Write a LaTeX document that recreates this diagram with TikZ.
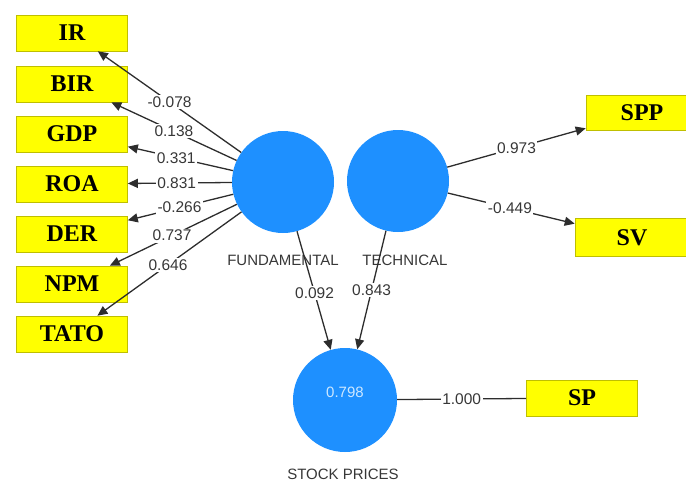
\documentclass[tikz,border=0pt]{standalone}
\usepackage{fontspec}
\setmainfont{Liberation Serif}
\setsansfont{Liberation Sans}
\usetikzlibrary{arrows.meta}
\definecolor{lvblue}{RGB}{30,144,255}
\definecolor{lvyellow}{RGB}{255,255,0}
\definecolor{lvtext}{RGB}{55,55,55}
\definecolor{lvline}{RGB}{45,45,45}
\definecolor{lvlight}{RGB}{205,232,255}
\tikzset{
  ind/.style={rectangle, fill=lvyellow, draw=lvyellow!75!black, line width=0.6pt,
    minimum width=111pt, minimum height=36pt, inner sep=0pt,
    font=\fontsize{24}{24}\selectfont\bfseries},
  lv/.style={circle, fill=lvblue, minimum size=102pt, inner sep=0pt},
  lvcaption/.style={text=lvtext, font=\sffamily\fontsize{15}{15}\selectfont},
  wt/.style={fill=white, text=lvtext, inner sep=1.5pt, font=\sffamily\fontsize{15.5}{15.5}\selectfont},
  conn/.style={draw=lvline, line width=1.3pt, -{Triangle[length=10pt,width=9pt]}},
  plainline/.style={draw=lvline, line width=1.3pt}
}
\begin{document}
\begin{tikzpicture}[x=1pt,y=-1pt]
\useasboundingbox (0,0) rectangle (686,483);
% indicators (left)
\node[ind] (IR)   at (72,33)  {IR};
\node[ind] (BIR)  at (72,84)  {BIR};
\node[ind] (GDP)  at (72,134) {GDP};
\node[ind] (ROA)  at (72,184) {ROA};
\node[ind] (DER)  at (72,234) {DER};
\node[ind] (NPM)  at (72,284) {NPM};
\node[ind] (TATO) at (72,334) {TATO};
% indicators (right, cut by the picture's edge)
\node[ind, minimum width=112pt, minimum height=35pt] (SPP) at (642,112.5) {SPP};
\node[ind, minimum width=114pt, minimum height=38pt] (SV)  at (632,237.5) {SV};
\node[ind] (SP)  at (582,398) {SP};
% latent variables
\node[lv] (F) at (283,182) {};
\node[lv] (T) at (398,181) {};
\node[lv, minimum size=104pt] (S) at (345,400) {};
\node[text=lvlight, font=\sffamily\fontsize{15}{15}\selectfont] (Sv) at (345,392) {0.798};
% captions
\node[lvcaption] (Fc) at (283,260) {FUNDAMENTAL};
\node[lvcaption] (Tc) at (405,260) {TECHNICAL};
\node[lvcaption] (Sc) at (343,474) {STOCK PRICES};
% outer loadings: fundamental
\draw[conn] (F) -- node[wt, pos=0.5]  {-0.078} (IR);
\draw[conn] (F) -- node[wt, pos=0.5]  {0.138}  (BIR);
\draw[conn] (F) -- node[wt, pos=0.54] {0.331}  (GDP);
\draw[conn] (F) -- node[wt, pos=0.53] {0.831}  (ROA);
\draw[conn] (F) -- node[wt, pos=0.51] {-0.266} (DER);
\draw[conn] (F) -- node[wt, pos=0.51] {0.737}  (NPM);
\draw[conn] (F) -- node[wt, pos=0.51] {0.646}  (TATO);
% outer loadings: technical
\draw[conn] (T) -- node[wt, pos=0.5]  {0.973}  (SPP);
\draw[conn] (T) -- node[wt, pos=0.49] {-0.449} (SV);
% paths
\draw[conn] (F) -- node[wt, pos=0.52] {0.092} (S);
\draw[conn] (T) -- node[wt, pos=0.5]  {0.843} (S);
% stock prices indicator
\draw[plainline] (S) -- node[wt, pos=0.5] {1.000} (SP);
\end{tikzpicture}
\end{document}
